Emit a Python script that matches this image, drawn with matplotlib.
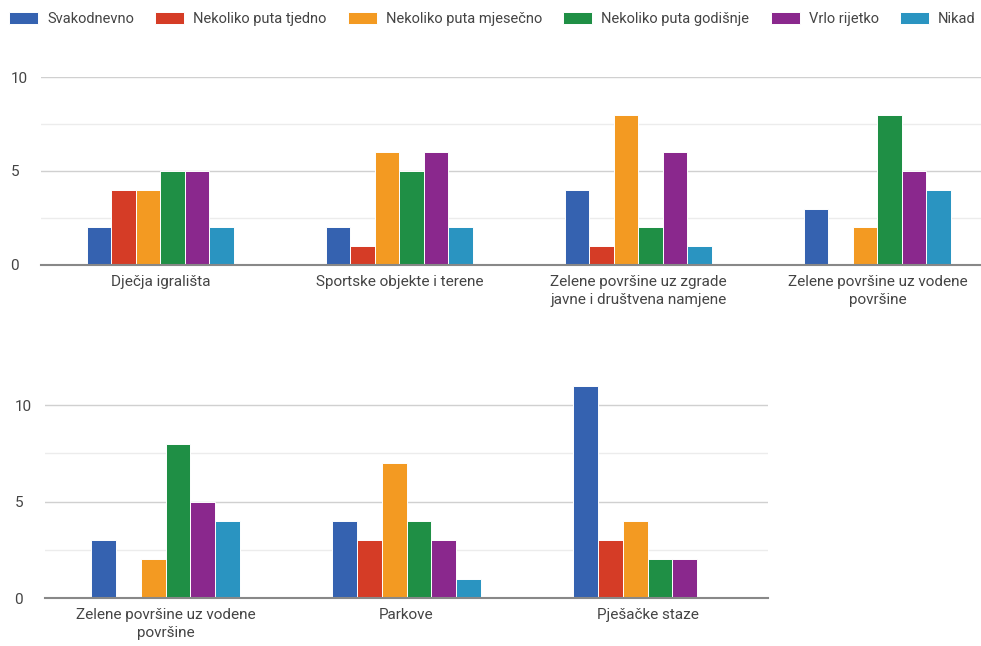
import numpy as np
import matplotlib.pyplot as plt

plt.rcParams['font.family'] = ['Roboto', 'DejaVu Sans']

series = ["Svakodnevno", "Nekoliko puta tjedno", "Nekoliko puta mjesečno",
          "Nekoliko puta godišnje", "Vrlo rijetko", "Nikad"]
colors = ["#3562b0", "#d53c26", "#f39a22", "#1f8f45", "#8a288d", "#2a94c1"]

# gornji graf
cats_top = ["Dječja igrališta", "Sportske objekte i terene",
            "Zelene površine uz zgrade\njavne i društvena namjene",
            "Zelene površine uz vodene\npovršine"]
svakodnevno_top = [2, 2, 4, 3]
tjedno_top = [4, 1, 1, 0]
mjesecno_top = [4, 6, 8, 2]
godisnje_top = [5, 5, 2, 8]
rijetko_top = [5, 6, 6, 5]
nikad_top = [2, 2, 1, 4]

# donji graf
cats_bot = ["Zelene površine uz vodene\npovršine", "Parkove", "Pješačke staze"]
svakodnevno_bot = [3, 4, 11]
tjedno_bot = [0, 3, 3]
mjesecno_bot = [2, 7, 4]
godisnje_bot = [8, 4, 2]
rijetko_bot = [5, 3, 2]
nikad_bot = [4, 1, 0]

top_vals = [svakodnevno_top, tjedno_top, mjesecno_top, godisnje_top, rijetko_top, nikad_top]
bot_vals = [svakodnevno_bot, tjedno_bot, mjesecno_bot, godisnje_bot, rijetko_bot, nikad_bot]

fig = plt.figure(figsize=(9.81, 6.46), dpi=100)
ax1 = fig.add_axes([0.0418, 0.5898, 0.958, 0.291])
ax2 = fig.add_axes([0.0459, 0.0743, 0.737, 0.3286])

w = 0.1025


def draw(ax, cats, vals, ymax, xmax):
    x = np.arange(len(cats))
    for i, (v, c) in enumerate(zip(vals, colors)):
        ax.bar(x + (i - 2.5) * w, v, w, color=c, edgecolor="white",
               linewidth=0.7, label=series[i], zorder=3)
    ax.set_xlim(-0.5, xmax)
    ax.set_ylim(0, ymax)
    ax.set_xticks(x)
    ax.set_xticklabels(cats, fontsize=11, color="#444444", linespacing=1.4)
    ax.set_yticks([0, 5, 10])
    ax.set_yticks([2.5, 7.5], minor=True)
    ax.tick_params(axis="y", which="both", length=0, labelsize=11,
                   labelcolor="#444444", pad=22)
    ax.tick_params(axis="x", length=0, pad=7)
    ax.grid(axis="y", which="major", color="#d0d0d0", linewidth=1, zorder=0)
    ax.grid(axis="y", which="minor", color="#ececec", linewidth=1, zorder=0)
    for s in ["top", "right", "left"]:
        ax.spines[s].set_visible(False)
    ax.spines["bottom"].set_color("#888888")
    ax.spines["bottom"].set_linewidth(1.5)
    ax.spines["bottom"].set_zorder(4)
    for lbl in ax.get_yticklabels():
        lbl.set_horizontalalignment("left")


draw(ax1, cats_top, top_vals, 10, 3.433)
draw(ax2, cats_bot, bot_vals, 11, 2.5)

handles, labels = ax1.get_legend_handles_labels()
fig.legend(handles, labels, loc="center left", bbox_to_anchor=(-0.004, 0.9706),
           ncol=6, frameon=False, fontsize=10.5, handlelength=1.99,
           handleheight=0.82, handletextpad=0.62, columnspacing=1.45,
           labelcolor="#444444")

fig.savefig("out.png", dpi=100)
